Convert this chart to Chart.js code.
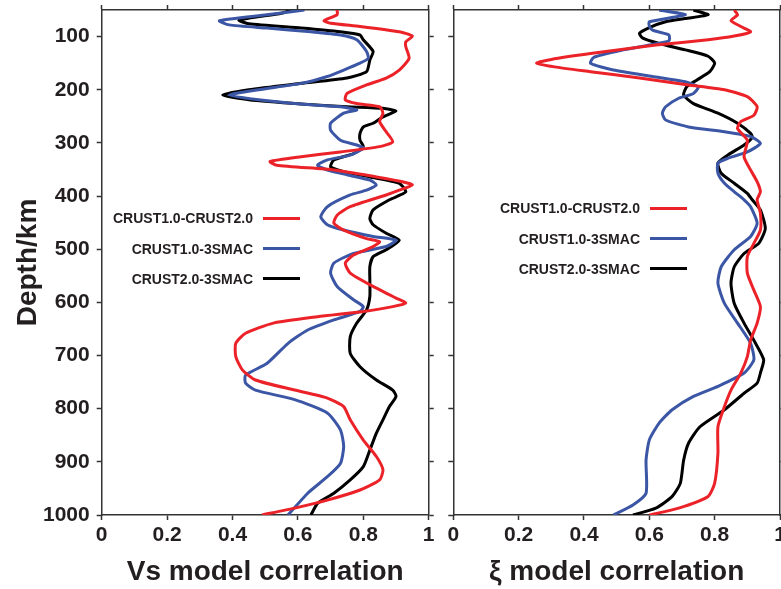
<!DOCTYPE html>
<html>
<head>
<meta charset="utf-8">
<title>Vs / ξ model correlation</title>
<script src="https://cdn.jsdelivr.net/npm/chart.js@4.4.1/dist/chart.umd.min.js"></script>
<style>
  html, body { margin: 0; padding: 0; background: #fff; overflow: hidden; }
  #wrap { position: relative; width: 781px; height: 589px; overflow: hidden; }
  canvas { position: absolute; top: -30px; }
  #vs-chart { left: 0; }
  #xi-chart { left: 420px; }
  .legend { position: absolute; font: bold 14px "Liberation Sans", Arial, sans-serif; color: #231f20; }
  .legend-row { display: flex; align-items: center; justify-content: flex-end; height: 30.4px; }
  .legend-line { display: inline-block; width: 37px; height: 3px; margin-left: 10px; }
</style>
</head>
<body>
<div id="wrap">
  <canvas id="vs-chart" width="470" height="619"></canvas>
  <canvas id="xi-chart" width="400" height="619"></canvas>
  <div id="vs-legend" class="legend" style="left:100px; top:203px; width:200px;"></div>
  <div id="xi-legend" class="legend" style="left:487px; top:193px; width:200px;"></div>
</div>
<script>
// axis ticks
const depthTicks = [100, 200, 300, 400, 500, 600, 700, 800, 900, 1000];
const corrTicks = [0, 0.2, 0.4, 0.6, 0.8, 1];
const DEPTH_MIN = 50;
const DEPTH_MAX = 1000;

// series names (legend)
const seriesNames = ['CRUST1.0-CRUST2.0', 'CRUST1.0-3SMAC', 'CRUST2.0-3SMAC'];

// Vs model correlation - CRUST1.0-CRUST2.0
const vsRedDepth = [50, 59, 70, 75, 81, 91, 99, 110, 119, 141, 163, 178, 191, 207, 219, 226, 232, 244, 260, 279,
  298, 307, 317, 326, 335, 342, 351, 364, 373, 379, 389, 398, 420, 436, 451, 464, 480, 486, 495, 511,
  526, 545, 570, 592, 601, 608, 617, 627, 639, 658, 677, 702, 727, 746, 765, 780, 796, 821, 859, 890,
  915, 934, 953, 972, 987, 1000];
const vsRedCorr = [0.72, 0.72, 0.68, 0.70, 0.79, 0.91, 0.95, 0.93, 0.93, 0.94, 0.91, 0.87, 0.81, 0.75, 0.745, 0.78, 0.85, 0.86, 0.85, 0.87,
  0.89, 0.85, 0.73, 0.61, 0.515, 0.535, 0.71, 0.84, 0.92, 0.95, 0.91, 0.87, 0.76, 0.72, 0.71, 0.74, 0.81, 0.85, 0.83, 0.77,
  0.745, 0.76, 0.83, 0.90, 0.93, 0.89, 0.80, 0.66, 0.525, 0.44, 0.41, 0.41, 0.43, 0.47, 0.59, 0.69, 0.74, 0.76, 0.80, 0.84,
  0.86, 0.85, 0.79, 0.69, 0.59, 0.49];

// Vs model correlation - CRUST1.0-3SMAC
const vsBlueDepth = [50, 59, 70, 78, 84, 91, 97, 106, 128, 141, 150, 163, 175, 188, 200, 210, 219, 227, 232, 238,
  244, 263, 276, 295, 304, 310, 323, 332, 342, 351, 360, 370, 379, 389, 398, 420, 439, 454, 464, 476,
  483, 495, 508, 526, 545, 570, 595, 608, 617, 633, 652, 677, 715, 737, 752, 765, 783, 808, 840, 871,
  903, 928, 959, 1000];
const vsBlueCorr = [0.62, 0.505, 0.36, 0.39, 0.505, 0.64, 0.73, 0.78, 0.81, 0.815, 0.79, 0.74, 0.69, 0.61, 0.48, 0.39, 0.48, 0.61, 0.73, 0.78,
  0.74, 0.70, 0.70, 0.73, 0.78, 0.80, 0.76, 0.69, 0.66, 0.69, 0.75, 0.82, 0.84, 0.81, 0.76, 0.69, 0.67, 0.69, 0.74, 0.83,
  0.90, 0.87, 0.77, 0.71, 0.70, 0.72, 0.77, 0.80, 0.79, 0.71, 0.63, 0.57, 0.505, 0.44, 0.44, 0.47, 0.59, 0.69, 0.73, 0.74,
  0.73, 0.69, 0.63, 0.57];

// Vs model correlation - CRUST2.0-3SMAC
const vsBlackDepth = [50, 56, 69, 76, 84, 91, 97, 106, 128, 144, 166, 178, 188, 200, 210, 219, 227, 232, 235, 240,
  251, 263, 270, 282, 295, 307, 320, 332, 345, 354, 364, 376, 392, 407, 426, 442, 454, 470, 483, 501,
  514, 533, 558, 589, 614, 639, 665, 696, 721, 746, 765, 777, 796, 821, 846, 878, 909, 934, 959, 978,
  1000];
const vsBlackCorr = [0.58, 0.55, 0.42, 0.45, 0.61, 0.73, 0.79, 0.80, 0.83, 0.82, 0.81, 0.75, 0.61, 0.45, 0.37, 0.45, 0.61, 0.75, 0.86, 0.90,
  0.86, 0.83, 0.80, 0.79, 0.79, 0.80, 0.77, 0.71, 0.70, 0.74, 0.82, 0.91, 0.93, 0.88, 0.83, 0.82, 0.83, 0.87, 0.91, 0.87,
  0.83, 0.82, 0.82, 0.82, 0.81, 0.78, 0.76, 0.76, 0.79, 0.84, 0.89, 0.90, 0.88, 0.86, 0.84, 0.82, 0.80, 0.76, 0.71, 0.66,
  0.64];

// ξ model correlation - CRUST1.0-CRUST2.0
const xiRedDepth = [50, 59, 70, 81, 91, 99, 106, 116, 132, 143, 150, 157, 166, 178, 191, 200, 213, 232, 248, 260,
  273, 295, 326, 351, 373, 392, 407, 432, 464, 489, 514, 545, 577, 608, 639, 671, 702, 733, 765, 796,
  834, 884, 940, 965, 987, 1000];
const xiRedCorr = [0.86, 0.87, 0.85, 0.88, 0.91, 0.86, 0.78, 0.62, 0.42, 0.30, 0.255, 0.31, 0.42, 0.57, 0.72, 0.83, 0.90, 0.93, 0.92, 0.88,
  0.87, 0.90, 0.89, 0.91, 0.93, 0.94, 0.93, 0.94, 0.94, 0.92, 0.90, 0.90, 0.92, 0.94, 0.93, 0.91, 0.90, 0.88, 0.85, 0.83,
  0.81, 0.81, 0.80, 0.78, 0.69, 0.60];

// ξ model correlation - CRUST1.0-3SMAC
const xiBlueDepth = [50, 59, 72, 80, 88, 97, 108, 117, 125, 139, 150, 163, 175, 185, 195, 207, 216, 232, 244, 257,
  270, 279, 288, 301, 317, 329, 338, 357, 376, 392, 407, 420, 451, 476, 501, 533, 564, 602, 639, 677,
  708, 733, 758, 777, 802, 827, 859, 897, 959, 981, 1000];
const xiBlueCorr = [0.63, 0.71, 0.60, 0.60, 0.61, 0.66, 0.66, 0.59, 0.52, 0.43, 0.42, 0.49, 0.61, 0.71, 0.75, 0.735, 0.69, 0.65, 0.64, 0.65,
  0.72, 0.83, 0.91, 0.94, 0.90, 0.84, 0.81, 0.81, 0.83, 0.86, 0.89, 0.91, 0.93, 0.91, 0.86, 0.82, 0.81, 0.83, 0.87, 0.91,
  0.92, 0.89, 0.81, 0.735, 0.67, 0.63, 0.60, 0.59, 0.59, 0.55, 0.49];

// ξ model correlation - CRUST2.0-3SMAC
const xiBlackDepth = [50, 59, 66, 72, 83, 94, 103, 113, 125, 137, 150, 166, 182, 194, 210, 226, 244, 263, 282, 290,
  304, 323, 338, 357, 376, 395, 407, 426, 461, 489, 508, 533, 564, 602, 639, 677, 708, 733, 752, 771,
  802, 834, 865, 897, 940, 965, 987, 1000];
const xiBlackCorr = [0.735, 0.78, 0.71, 0.65, 0.60, 0.57, 0.58, 0.63, 0.71, 0.78, 0.80, 0.785, 0.745, 0.715, 0.705, 0.735, 0.81, 0.87, 0.91, 0.915,
  0.89, 0.84, 0.81, 0.82, 0.86, 0.90, 0.915, 0.94, 0.955, 0.935, 0.89, 0.86, 0.85, 0.86, 0.89, 0.925, 0.95, 0.94, 0.93, 0.89,
  0.83, 0.755, 0.72, 0.705, 0.695, 0.67, 0.62, 0.55];

const COLORS = ['#ec2229', '#3c56a6', '#000000'];
const FONT = "'Liberation Sans', Arial, Helvetica, sans-serif";
const INK = '#231f20';
const FRAME = '#333333';

/**
 * build one line dataset, depth on y, correlation on x
 */
function makeSeries(label, depths, corrs, color) {
  return {
    label: label,
    data: depths.map((d, i) => ({ x: corrs[i], y: d })),
    showLine: true,
    borderColor: color,
    backgroundColor: color,
    borderWidth: 3,
    pointRadius: 0,
    tension: 0.2,
    fill: false
  };
}

/**
 * depth axis (left with labels, or right side tick marks only)
 */
function depthAxis(position, showLabels, width, title) {
  return {
    type: 'linear',
    position: position,
    reverse: true,
    min: DEPTH_MIN,
    max: DEPTH_MAX,
    afterBuildTicks: s => { s.ticks = depthTicks.map(v => ({ value: v })); },
    afterFit: s => { s.width = width; },
    ticks: {
      display: showLabels, padding: 7, color: INK,
      font: { family: FONT, size: 21, weight: 'bold' },
      callback: v => String(v)
    },
    grid: { drawOnChartArea: false, tickLength: 5, tickWidth: 1.5, color: FRAME },
    border: { display: true, color: FRAME, width: 1.5 },
    title: title ? {
      display: true, text: title, color: INK,
      font: { family: FONT, size: 28, weight: 'bold' },
      padding: { top: 11, bottom: 0 }
    } : { display: false }
  };
}

/**
 * correlation axis (bottom with labels, or top tick marks only)
 */
function corrAxis(position, showLabels, height, title) {
  return {
    type: 'linear',
    position: position,
    min: 0,
    max: 1,
    afterBuildTicks: s => { s.ticks = corrTicks.map(v => ({ value: v })); },
    afterFit: s => { s.height = height; },
    ticks: {
      display: showLabels, padding: 3, color: INK,
      font: { family: FONT, size: 21, weight: 'bold' },
      callback: v => String(v)
    },
    grid: { drawOnChartArea: false, tickLength: 5, tickWidth: 1.5, color: FRAME },
    border: { display: true, color: FRAME, width: 1.5 },
    title: title ? {
      display: true, text: title, color: INK,
      font: { family: FONT, size: 28, weight: 'bold' },
      padding: { top: 0, bottom: 0 }
    } : { display: false }
  };
}

/**
 * create one panel; canvases are a bit larger than the visible box so
 * the automatic label padding never squeezes the plot area
 */
function makePanel(canvasId, datasets, cfg) {
  const ctx = document.getElementById(canvasId);
  return new Chart(ctx, {
    type: 'scatter',
    data: { datasets: datasets },
    options: {
      responsive: false,
      animation: false,
      devicePixelRatio: 1,
      layout: { padding: 0 },
      plugins: {
        legend: { display: false },
        tooltip: { enabled: false }
      },
      scales: {
        x: corrAxis('bottom', true, 74, cfg.xTitle),
        x2: corrAxis('top', false, 40, null),
        y: depthAxis('left', cfg.yLabels, cfg.leftWidth, cfg.yTitle),
        y2: depthAxis('right', false, cfg.rightWidth, null)
      }
    }
  });
}

/**
 * html legend: text first, then the line sample
 */
function buildLegend(chart, containerId) {
  const box = document.getElementById(containerId);
  box.innerHTML = chart.data.datasets.map(ds => `
    <div class="legend-row">
      <span>${ds.label}</span>
      <span class="legend-line" style="background:${ds.borderColor}"></span>
    </div>`).join('');
}

document.addEventListener('DOMContentLoaded', () => {
  const vsChart = makePanel('vs-chart', [
    makeSeries(seriesNames[0], vsRedDepth, vsRedCorr, COLORS[0]),
    makeSeries(seriesNames[1], vsBlueDepth, vsBlueCorr, COLORS[1]),
    makeSeries(seriesNames[2], vsBlackDepth, vsBlackCorr, COLORS[2])
  ], { xTitle: 'Vs model correlation', yTitle: 'Depth/km', yLabels: true, leftWidth: 101.7, rightWidth: 41.3 });

  const xiChart = makePanel('xi-chart', [
    makeSeries(seriesNames[0], xiRedDepth, xiRedCorr, COLORS[0]),
    makeSeries(seriesNames[1], xiBlueDepth, xiBlueCorr, COLORS[1]),
    makeSeries(seriesNames[2], xiBlackDepth, xiBlackCorr, COLORS[2])
  ], { xTitle: 'ξ model correlation', yTitle: null, yLabels: false, leftWidth: 33.3, rightWidth: 40 });

  buildLegend(vsChart, 'vs-legend');
  buildLegend(xiChart, 'xi-legend');
});
</script>
</body>
</html>
